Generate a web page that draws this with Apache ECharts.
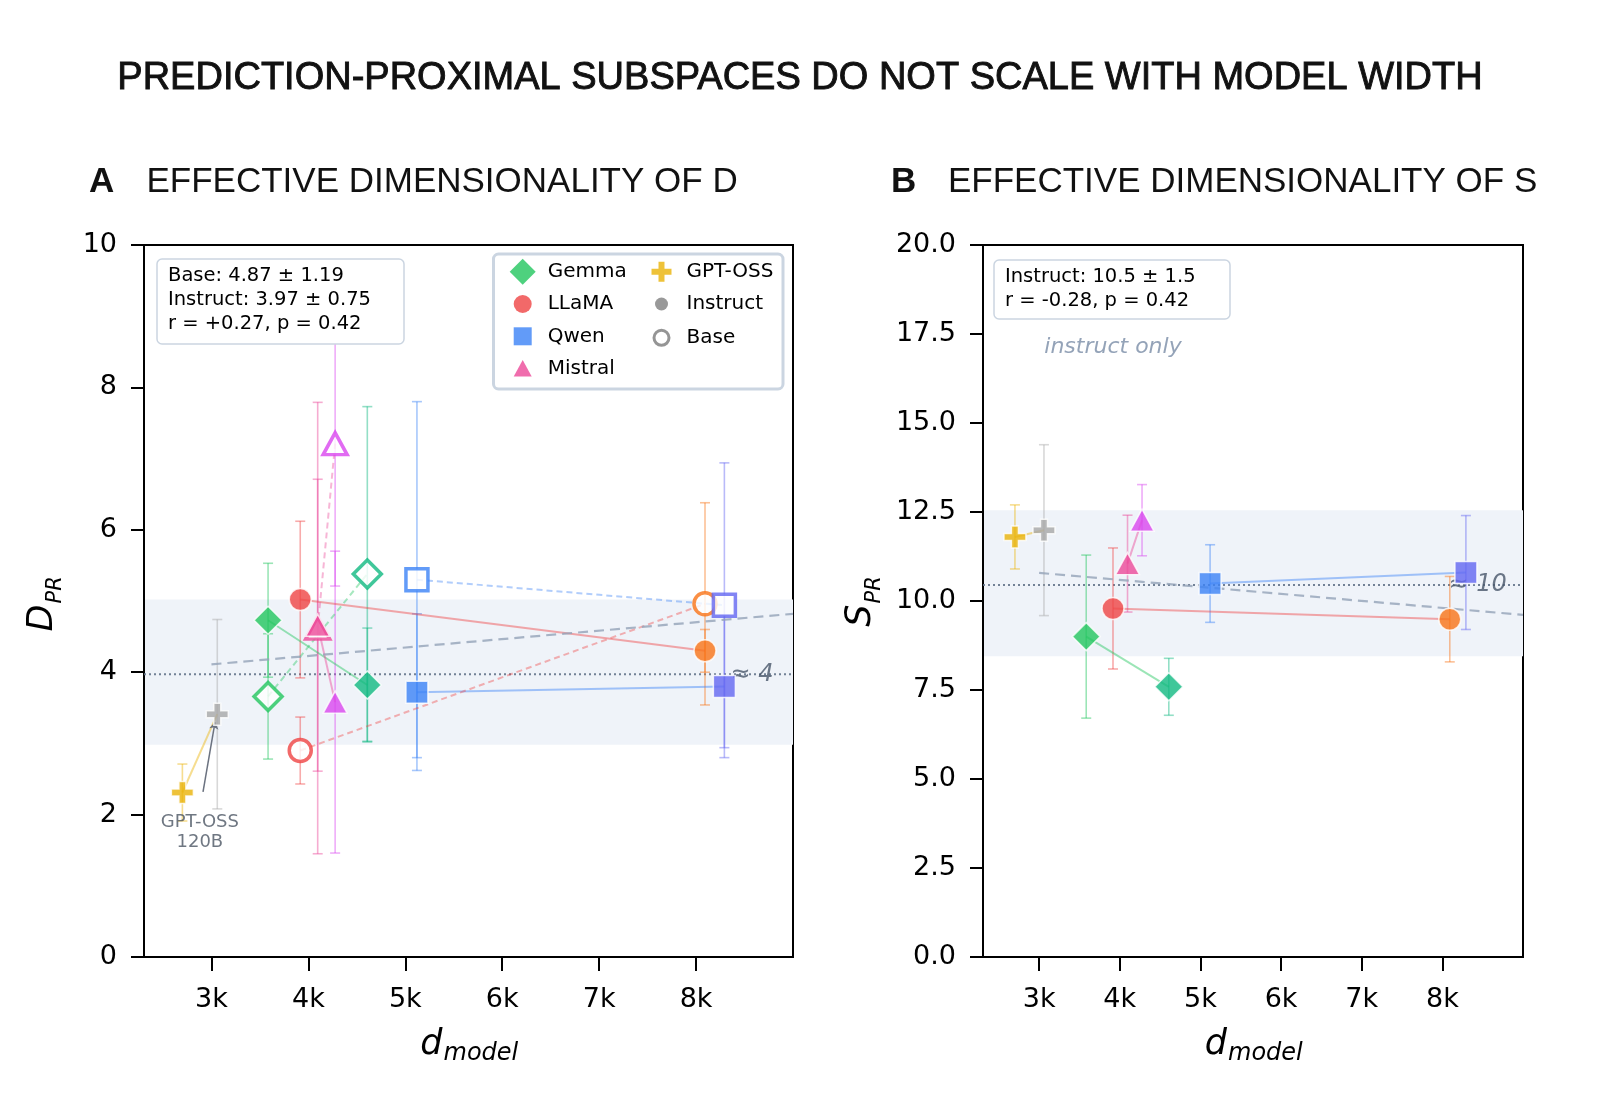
<!DOCTYPE html>
<html>
<head>
<meta charset="utf-8">
<title>Prediction-proximal subspaces</title>
<script src="https://cdn.jsdelivr.net/npm/echarts@6/dist/echarts.min.js"></script>
<style>
  html, body { margin: 0; padding: 0; background: #fff; }
  #chart { width: 1600px; height: 1094px; }
</style>
</head>
<body>
<div id="chart"></div>
<script>
// ---- data ----
var models   = ['GPT-OSS 20B', 'GPT-OSS 120B', 'Gemma 9B', 'LLaMA 8B', 'Mistral 7B', 'Ministral 8B', 'Gemma 27B', 'Qwen 14B', 'LLaMA 70B', 'Qwen 72B'];
var families = ['GPT-OSS', 'GPT-OSS', 'Gemma', 'LLaMA', 'Mistral', 'Mistral', 'Gemma', 'Qwen', 'LLaMA', 'Qwen'];
// d_model as plotted (models sharing a width are nudged apart)
var dModel   = [2700, 3060, 3584, 3916, 4096, 4276, 4608, 5120, 8092, 8292];

var dprInstruct    = [2.31, 3.41, 4.73, 5.02, 4.66, 3.58, 3.82, 3.72, 4.30, 3.80];
var dprInstructErr = [0.40, 1.33, 0.80, 1.10, 2.05, 2.12, 0.80, 1.10, 0.30, 1.00];
var dprBase        = [null, null, 3.66, 2.90, 4.62, 7.21, 5.38, 5.30, 4.96, 4.94];
var dprBaseErr     = [null, null, 0.88, 0.47, 3.17, 2.00, 2.35, 2.50, 1.42, 2.00];

var sprInstruct    = [11.80, 11.99, 9.00, 9.79, 11.05, 12.27, 7.59, 10.49, 9.49, 10.80];
var sprInstructErr = [0.90, 2.40, 2.29, 1.70, 1.36, 1.00, 0.80, 1.09, 1.20, 1.60];

// same-family pairs joined by a line (instruct solid, base dashed)
var pairs = [[0, 1], [2, 6], [3, 8], [4, 5], [7, 9]];

var meanA = 3.97, bandA = [2.98, 5.02];
var meanB = 10.45, bandB = [8.45, 12.55];
var trendA = [[3000, 4.11], [9000, 4.82]];
var trendB = [[3000, 10.79], [9000, 9.61]];

var xMin = 2304, xMax = 9000;
var xTicks = [3000, 4000, 5000, 6000, 7000, 8000];

// ---- styles ----
var modelColors = ['#eab308', '#a8a8a8', '#22c55e', '#ef4444', '#ec4899', '#d946ef', '#10b981', '#3b82f6', '#f97316', '#6366f1'];
var plusPath = 'path://M7.5,0H14.5V7.5H22V14.5H14.5V22H7.5V14.5H0V7.5H7.5Z';
var familySymbol = {
  'Gemma':   { symbol: 'diamond',  size: 28 },
  'LLaMA':   { symbol: 'circle',   size: 22 },
  'Qwen':    { symbol: 'rect',     size: 22 },
  'Mistral': { symbol: 'triangle', size: [24, 22] },
  'GPT-OSS': { symbol: plusPath,   size: 22 }
};
var icons = {
  diamond: 'path://M13,0L26,13L13,26L0,13Z',
  circle:  'path://M0,0M26,26M4,13A9,9,0,1,1,22,13A9,9,0,1,1,4,13Z',
  square:  'path://M0,0M26,26M4,4H22V22H4Z',
  tri:     'path://M0,0M26,26M13,4.5L22,21L4,21Z',
  plus:    'path://M0,0M26,26M10,3H16V10H23V16H16V23H10V16H3V10H10Z',
  dot:     'path://M0,0M26,26M6.5,13A6.5,6.5,0,1,1,19.5,13A6.5,6.5,0,1,1,6.5,13Z',
  ring:    'path://M0,0M26,26M5.5,13A7.5,7.5,0,1,1,20.5,13A7.5,7.5,0,1,1,5.5,13Z'
};
var tickFont = 'DejaVu Sans';

function errData(vals, errs) {
  var out = [];
  for (var i = 0; i < models.length; i++) {
    if (vals[i] == null) continue;
    out.push({ value: [dModel[i], vals[i] - errs[i], vals[i] + errs[i]], itemStyle: { color: modelColors[i] } });
  }
  return out;
}

function pointData(vals, hollow) {
  var out = [];
  for (var i = 0; i < models.length; i++) {
    if (vals[i] == null) continue;
    var s = familySymbol[families[i]];
    out.push({
      name: models[i],
      value: [dModel[i], vals[i]],
      symbol: s.symbol,
      symbolSize: s.size,
      itemStyle: hollow
        ? { color: '#fff', borderColor: modelColors[i], borderWidth: 3.5 }
        : { color: modelColors[i], borderColor: '#fff', borderWidth: 1.5 }
    });
  }
  return out;
}

function errorBars(idx, vals, errs) {
  return {
    type: 'custom', xAxisIndex: idx, yAxisIndex: idx, z: 2, silent: true,
    data: errData(vals, errs),
    renderItem: function (params, api) {
      var x = api.value(0);
      var lo = api.coord([x, api.value(1)]);
      var hi = api.coord([x, api.value(2)]);
      var st = { stroke: api.visual('color'), lineWidth: 1.6, opacity: 0.45 };
      return { type: 'group', children: [
        { type: 'line', shape: { x1: lo[0], y1: lo[1], x2: hi[0], y2: hi[1] }, style: st },
        { type: 'line', shape: { x1: lo[0] - 5, y1: lo[1], x2: lo[0] + 5, y2: lo[1] }, style: st },
        { type: 'line', shape: { x1: hi[0] - 5, y1: hi[1], x2: hi[0] + 5, y2: hi[1] }, style: st }
      ]};
    }
  };
}

function band(idx, b) {
  return {
    type: 'custom', xAxisIndex: idx, yAxisIndex: idx, z: 0, silent: true,
    data: [[xMin, b[0], xMax, b[1]]],
    renderItem: function (params, api) {
      var p0 = api.coord([api.value(0), api.value(1)]);
      var p1 = api.coord([api.value(2), api.value(3)]);
      return { type: 'rect', shape: { x: p0[0], y: p1[1], width: p1[0] - p0[0], height: p0[1] - p1[1] },
               style: { fill: '#eff3f9' } };
    }
  };
}

function connectors(idx, vals, dashed) {
  var out = [];
  pairs.forEach(function (p) {
    if (vals[p[0]] == null || vals[p[1]] == null) return;
    out.push({
      type: 'line', xAxisIndex: idx, yAxisIndex: idx, z: 3, silent: true,
      symbol: 'none',
      data: [[dModel[p[0]], vals[p[0]]], [dModel[p[1]], vals[p[1]]]],
      lineStyle: { color: modelColors[p[0]], width: 2, opacity: dashed ? 0.4 : 0.45, type: dashed ? [6, 4] : 'solid' }
    });
  });
  return out;
}

function meanLine(idx, m) {
  return {
    type: 'line', xAxisIndex: idx, yAxisIndex: idx, z: 1, silent: true, symbol: 'none',
    data: [[xMin, m], [xMax, m]],
    lineStyle: { color: '#64748b', width: 2, type: [2, 3], opacity: 0.9 }
  };
}

function meanLabel(idx, m, txt) {
  return {
    type: 'scatter', xAxisIndex: idx, yAxisIndex: idx, z: 1, silent: true,
    symbolSize: 0,
    data: [[8800, m]],
    label: { show: true, position: 'left', distance: 0, formatter: txt,
             fontFamily: tickFont, fontStyle: 'italic', fontSize: 24, color: '#475569' }
  };
}

function trend(idx, t) {
  return {
    type: 'line', xAxisIndex: idx, yAxisIndex: idx, z: 3, silent: true, symbol: 'none',
    data: t,
    lineStyle: { color: '#94a3b8', width: 2.2, type: [10, 6], opacity: 0.8 }
  };
}

function xAxis(idx) {
  return {
    type: 'value', gridIndex: idx, min: xMin, max: xMax,
    axisLine: { show: true, lineStyle: { color: '#000', width: 2 } },
    axisTick: { show: true, length: 14, lineStyle: { color: '#000', width: 2 }, customValues: xTicks },
    axisLabel: { customValues: xTicks, formatter: function (v) { return (v / 1000) + 'k'; },
                 fontFamily: tickFont, fontSize: 27, color: '#000', margin: 29 },
    splitLine: { show: false }
  };
}

function yAxis(idx, max, interval, digits) {
  return {
    type: 'value', gridIndex: idx, min: 0, max: max, interval: interval,
    axisLine: { show: true, lineStyle: { color: '#000', width: 2 } },
    axisTick: { show: true, length: 13, lineStyle: { color: '#000', width: 2 } },
    axisLabel: { formatter: function (v) { return v.toFixed(digits); },
                 fontFamily: tickFont, fontSize: 27, color: '#000', margin: 27 },
    splitLine: { show: false }
  };
}

var series = [];
// panel A
series.push(band(0, bandA), meanLine(0, meanA), meanLabel(0, meanA, '≈ 4'));
series.push(errorBars(0, dprBase, dprBaseErr), errorBars(0, dprInstruct, dprInstructErr));
series = series.concat(connectors(0, dprInstruct, false), connectors(0, dprBase, true));
series.push(trend(0, trendA));
series.push({ type: 'scatter', xAxisIndex: 0, yAxisIndex: 0, z: 5, data: pointData(dprBase, true) });
series.push({ type: 'scatter', xAxisIndex: 0, yAxisIndex: 0, z: 6, data: pointData(dprInstruct, false) });
// GPT-OSS 120B call-out
series.push({
  type: 'scatter', xAxisIndex: 0, yAxisIndex: 0, z: 4, silent: true, symbolSize: 0,
  data: [[2880, 1.75]],
  label: { show: true, position: 'inside', formatter: 'GPT-OSS\n120B', fontFamily: tickFont,
           fontSize: 18, lineHeight: 20, color: '#4b5563' },
  markLine: { silent: true, symbol: ['none', 'arrow'], symbolSize: 7, label: { show: false },
              lineStyle: { color: '#6b7280', width: 1.5, type: 'solid' },
              data: [[{ coord: [2913, 2.32] }, { coord: [3037, 3.30] }]] }
});
// panel B
series.push(band(1, bandB), meanLine(1, meanB), meanLabel(1, meanB, '≈ 10'));
series.push(errorBars(1, sprInstruct, sprInstructErr));
series = series.concat(connectors(1, sprInstruct, false));
series.push(trend(1, trendB));
series.push({ type: 'scatter', xAxisIndex: 1, yAxisIndex: 1, z: 6, data: pointData(sprInstruct, false) });
// legend-only entries
['Gemma', 'LLaMA', 'Qwen', 'Mistral', 'GPT-OSS', 'Instruct', 'Base'].forEach(function (n) {
  series.push({ type: 'scatter', name: n, xAxisIndex: 0, yAxisIndex: 0, data: [] });
});

var legendText = { fontFamily: tickFont, fontSize: 20, color: '#000', padding: [0, 0, 0, 7] };
var legendCommon = { orient: 'vertical', itemWidth: 26, itemHeight: 26, itemGap: 6.3, padding: 0,
                     selectedMode: false, z: 8, textStyle: legendText };

function yLabel(x, y, main, sub) {
  return { type: 'group', x: x, y: y, rotation: Math.PI / 2, children: [
    { type: 'text', style: { text: main, x: 0, y: 0, font: 'italic 35px "DejaVu Sans"', fill: '#000',
                             textAlign: 'right', textVerticalAlign: 'middle' } },
    { type: 'text', style: { text: sub, x: 1, y: 13.5, font: 'italic 21px "DejaVu Sans"', fill: '#000',
                             textAlign: 'left', textVerticalAlign: 'middle' } }
  ]};
}
function xLabel(c) {
  return { type: 'group', children: [
    { type: 'text', style: { text: 'd', x: c - 26, y: 1045, font: 'italic 35px "DejaVu Sans"', fill: '#000',
                             textAlign: 'right', textVerticalAlign: 'middle' } },
    { type: 'text', style: { text: 'model', x: c - 25, y: 1054, font: 'italic 24px "DejaVu Sans"', fill: '#000',
                             textAlign: 'left', textVerticalAlign: 'middle' } }
  ]};
}
function infoBox(x, y, w, h, lines) {
  return { type: 'group', z: 10, children: [
    { type: 'rect', z: 10, shape: { x: x, y: y, width: w, height: h, r: 5 },
      style: { fill: '#fff', stroke: '#cbd5e1', lineWidth: 1.5 } },
    { type: 'text', z: 11, style: { text: lines, x: x + 11, y: y + 5, font: '19.5px "DejaVu Sans"', fill: '#000',
                                   lineHeight: 24, textAlign: 'left', textVerticalAlign: 'top' } }
  ]};
}

var option = {
  animation: false,
  backgroundColor: '#fff',
  grid: [
    { left: 144, top: 245, width: 649, height: 712, show: true, borderColor: '#000', borderWidth: 2, outerBoundsMode: 'none' },
    { left: 983, top: 245, width: 540, height: 712, show: true, borderColor: '#000', borderWidth: 2, outerBoundsMode: 'none' }
  ],
  xAxis: [xAxis(0), xAxis(1)],
  yAxis: [yAxis(0, 10, 2, 0), yAxis(1, 20, 2.5, 1)],
  legend: [
    Object.assign({ left: 509.7, top: 258.7, data: [
      { name: 'Gemma', icon: icons.diamond, itemStyle: { color: modelColors[2], borderWidth: 0 } },
      { name: 'LLaMA', icon: icons.circle, itemStyle: { color: modelColors[3], borderWidth: 0 } },
      { name: 'Qwen', icon: icons.square, itemStyle: { color: modelColors[7], borderWidth: 0 } },
      { name: 'Mistral', icon: icons.tri, itemStyle: { color: modelColors[4], borderWidth: 0 } }
    ]}, legendCommon),
    Object.assign({ left: 647, top: 258.7, data: [
      { name: 'GPT-OSS', icon: icons.plus, itemStyle: { color: modelColors[0], borderWidth: 0 } },
      { name: 'Instruct', icon: icons.dot, itemStyle: { color: '#808080', borderWidth: 0 } },
      { name: 'Base', icon: icons.ring, itemStyle: { color: '#fff', borderColor: '#7a7a7a', borderWidth: 3 } }
    ]}, legendCommon)
  ],
  graphic: [
    { type: 'text', style: { text: 'PREDICTION-PROXIMAL SUBSPACES DO NOT SCALE WITH MODEL WIDTH', x: 800, y: 79,
      font: '38px "Liberation Sans"', fill: '#111', stroke: '#111', lineWidth: 0.9,
      textAlign: 'center', textVerticalAlign: 'middle' } },
    { type: 'text', style: { text: 'A', x: 89, y: 182, font: 'bold 35px "Liberation Sans"', fill: '#111', textVerticalAlign: 'middle' } },
    { type: 'text', style: { text: 'EFFECTIVE DIMENSIONALITY OF D', x: 146.5, y: 182, font: '35px "Liberation Sans"', fill: '#111', textVerticalAlign: 'middle' } },
    { type: 'text', style: { text: 'B', x: 891, y: 182, font: 'bold 35px "Liberation Sans"', fill: '#111', textVerticalAlign: 'middle' } },
    { type: 'text', style: { text: 'EFFECTIVE DIMENSIONALITY OF S', x: 948, y: 182, font: '35px "Liberation Sans"', fill: '#111', textVerticalAlign: 'middle' } },
    yLabel(42.5, 604.5, 'D', 'PR'),
    yLabel(861, 604.5, 'S', 'PR'),
    xLabel(468.5),
    xLabel(1253),
    { type: 'rect', z: 7, shape: { x: 493.5, y: 254, width: 289.5, height: 135, r: 5 },
      style: { fill: '#fff', stroke: '#cbd5e1', lineWidth: 3 } },
    infoBox(157, 259, 247, 85, 'Base: 4.87 ± 1.19\nInstruct: 3.97 ± 0.75\nr = +0.27, p = 0.42'),
    infoBox(994, 260, 236, 59, 'Instruct: 10.5 ± 1.5\nr = -0.28, p = 0.42'),
    { type: 'text', z: 10, style: { text: 'instruct only', x: 1113, y: 347, font: 'italic 22px "DejaVu Sans"', fill: '#94a3b8',
      textAlign: 'center', textVerticalAlign: 'middle' } }
  ],
  series: series
};

var chart = echarts.init(document.getElementById('chart'), null, { renderer: 'canvas' });
chart.setOption(option);
</script>
</body>
</html>
